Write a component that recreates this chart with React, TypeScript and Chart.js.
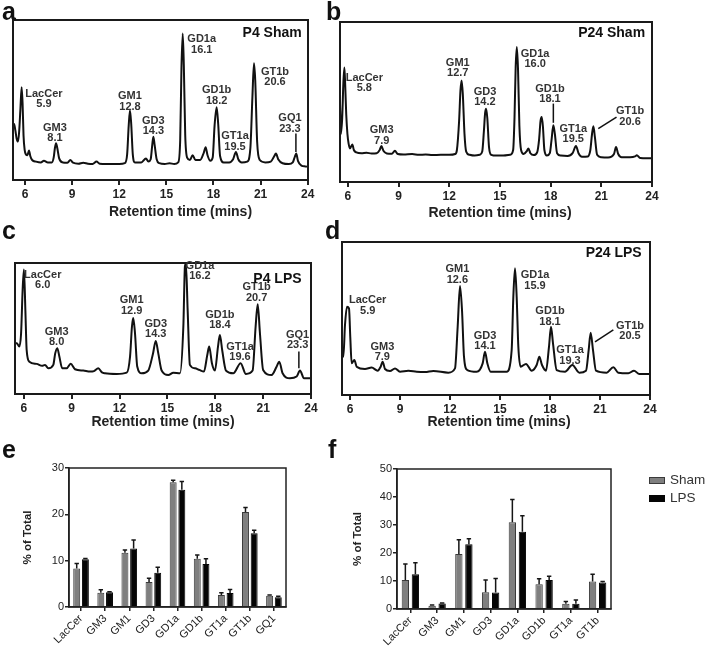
import React, { useEffect, useRef } from 'react';
import { Chart, registerables } from 'chart.js';

Chart.register(...registerables);

const FONT = "'Liberation Sans', Arial, Helvetica, sans-serif";
Chart.defaults.font.family = FONT;

// ---------------- DATA ----------------
const rtTicks = [6, 9, 12, 15, 18, 21, 24];

// chromatogram traces: [retention time (min), detector signal (% of panel height)]
const p4ShamTrace: [number, number][] = [
  [5.23, 34], [5.3, 35], [5.38, 31], [5.46, 26], [5.55, 24], [5.62, 30], [5.7, 44], [5.78, 58], [5.84, 48], [5.9, 28],
  [5.97, 19], [6.05, 16], [6.15, 15.5], [6.25, 18.5], [6.33, 15], [6.45, 12.5], [6.7, 11.5], [7.0, 11], [7.2, 12], [7.45, 11],
  [7.7, 11], [7.82, 14], [7.9, 20], [7.97, 23], [8.05, 20], [8.17, 13.5], [8.4, 11], [8.7, 10.8], [8.88, 12.5], [9.05, 10.8],
  [9.4, 10.2], [9.7, 10.8], [10.0, 10.2], [10.3, 10], [10.55, 11.5], [10.75, 10.2], [11.2, 10], [11.6, 10], [12.0, 10], [12.35, 10.5],
  [12.5, 16], [12.6, 34], [12.68, 43.5], [12.76, 35], [12.86, 16], [13.0, 11], [13.4, 11], [13.7, 13.5], [13.85, 11.5], [14.0, 13],
  [14.1, 22], [14.17, 27], [14.25, 22], [14.38, 13], [14.55, 10.5], [14.9, 10], [15.2, 10.5], [15.5, 10], [15.75, 11], [15.88, 25],
  [15.96, 70], [16.04, 91.5], [16.11, 72], [16.2, 28], [16.32, 14], [16.5, 12.5], [16.67, 15.5], [16.85, 12.5], [17.15, 12.5], [17.38, 17],
  [17.5, 20.5], [17.62, 15.5], [17.8, 12], [17.95, 14], [18.07, 34], [18.2, 45.5], [18.3, 35], [18.42, 15], [18.65, 11], [19.0, 11],
  [19.25, 13], [19.43, 17.5], [19.58, 13], [19.8, 11], [20.15, 11.5], [20.35, 20], [20.48, 52], [20.58, 73], [20.66, 62], [20.78, 24],
  [20.95, 12.5], [21.3, 11], [21.65, 11.5], [21.85, 14.5], [21.98, 16.5], [22.12, 13], [22.4, 10.5], [22.8, 10], [23.05, 11], [23.18, 14.5],
  [23.27, 16.5], [23.38, 12], [23.6, 9], [23.85, 8.5], [24.02, 8.3],
];

const p24ShamTrace: [number, number][] = [
  [5.53, 49], [5.58, 30], [5.66, 40], [5.73, 62], [5.79, 71.5], [5.84, 60], [5.9, 42], [5.97, 30], [6.04, 24], [6.12, 21],
  [6.26, 23.5], [6.35, 20], [6.5, 18.5], [6.8, 18], [7.1, 18.3], [7.4, 17.8], [7.7, 18], [7.88, 20], [7.98, 22.5], [8.1, 19.5],
  [8.3, 17.8], [8.6, 17.6], [8.78, 19.5], [8.95, 17.5], [9.3, 17.2], [9.8, 17.5], [10.2, 17], [10.6, 17.2], [11.0, 16.8], [11.5, 17],
  [12.0, 17], [12.35, 17.5], [12.45, 20], [12.58, 38], [12.66, 57], [12.73, 63.5], [12.8, 55], [12.9, 30], [13.0, 19], [13.2, 17],
  [13.5, 16.5], [13.8, 17], [13.95, 19], [14.05, 32], [14.12, 43], [14.18, 45.8], [14.25, 40], [14.35, 22], [14.48, 17], [14.8, 16.5],
  [15.2, 16.5], [15.6, 17], [15.78, 20], [15.86, 40], [15.93, 72], [16.0, 84.4], [16.07, 70], [16.15, 35], [16.25, 20], [16.4, 17.5],
  [16.6, 19.5], [16.68, 21], [16.8, 18], [17.0, 16.8], [17.2, 18.5], [17.32, 27], [17.4, 38], [17.47, 40.6], [17.54, 35], [17.63, 20],
  [17.78, 16.5], [17.95, 18], [18.05, 26], [18.16, 35.4], [18.25, 30], [18.38, 18], [18.6, 16.5], [19.0, 16.2], [19.3, 18], [19.5, 22.5],
  [19.65, 18], [19.85, 15.8], [20.2, 16], [20.35, 20], [20.45, 30], [20.53, 34.8], [20.62, 28], [20.75, 17], [21.0, 15.5], [21.4, 15.3],
  [21.75, 17.5], [21.87, 21.9], [22.0, 17.5], [22.2, 15.5], [22.7, 15.5], [23.0, 16], [23.1, 16.7], [23.3, 15], [23.7, 14.8], [24.0, 14.8],
];

const p4LpsTrace: [number, number][] = [
  [5.47, 38.8], [5.56, 38.8], [5.72, 36.2], [5.83, 46], [5.93, 80], [6.01, 95], [6.1, 64], [6.18, 33.7], [6.35, 24.7], [6.81, 23],
  [7.15, 21.5], [7.33, 22.2], [7.54, 19.6], [7.85, 22.2], [7.97, 31], [8.1, 35], [8.23, 28.6], [8.41, 19.6], [8.69, 19.6], [8.94, 23],
  [9.21, 18.9], [9.73, 17.9], [10.15, 17.1], [10.4, 17.5], [10.67, 19.6], [10.9, 16.5], [11.09, 15.8], [11.82, 15.3], [12.45, 16.3], [12.66, 28.6],
  [12.78, 51.5], [12.86, 58], [12.97, 46.4], [13.11, 21], [13.39, 15.8], [13.8, 17.9], [14.1, 31], [14.27, 40.5], [14.43, 31], [14.64, 17.9],
  [15.06, 14.5], [15.37, 16.3], [15.79, 15.8], [16.0, 51.5], [16.1, 97.4], [16.16, 99.5], [16.27, 64], [16.41, 22.2], [16.73, 19.6], [17.0, 18.4],
  [17.29, 17.1], [17.5, 29.8], [17.62, 36.2], [17.79, 23.5], [17.98, 17.9], [18.17, 36], [18.29, 45], [18.44, 33], [18.67, 17.9], [19.13, 15.8],
  [19.59, 23.5], [19.92, 15.3], [20.34, 17.9], [20.53, 51.5], [20.66, 68.6], [20.8, 46.4], [21.0, 18.4], [21.53, 14.5], [21.85, 21], [22.01, 24.7],
  [22.22, 15.8], [22.68, 12], [23.1, 13.3], [23.31, 17.9], [23.56, 12], [24.0, 12],
];

const p24LpsTrace: [number, number][] = [
  [5.54, 28.3], [5.6, 25], [5.7, 45.8], [5.82, 57.7], [5.94, 56.6], [6.02, 37], [6.1, 20.7], [6.26, 22.9], [6.4, 18.5], [6.9, 17],
  [7.3, 17.9], [7.66, 15.9], [7.84, 18.5], [7.96, 21.8], [8.1, 17], [8.4, 15.7], [8.7, 17.4], [9.0, 15.2], [9.5, 15.8], [10.0, 15.2],
  [10.5, 15.0], [11.0, 15.7], [11.9, 14.6], [12.3, 17.4], [12.46, 44.6], [12.6, 71.2], [12.72, 55.6], [12.84, 25], [13.04, 16.3], [13.6, 15.2],
  [13.96, 20.7], [14.1, 28.3], [14.24, 20.7], [14.44, 15.2], [15.4, 15.2], [15.7, 29.4], [15.8, 64.2], [15.9, 82.8], [16.0, 64.2], [16.1, 31.6],
  [16.24, 18.5], [16.56, 20.3], [16.9, 15.9], [17.2, 19.6], [17.36, 25], [17.52, 19.6], [17.76, 15.9], [17.94, 31.6], [18.06, 44.6], [18.18, 33.8],
  [18.4, 16.3], [18.9, 15.2], [19.34, 19.6], [19.76, 14.6], [20.16, 15.9], [20.32, 29.4], [20.44, 40.7], [20.58, 29.4], [20.76, 15.9], [21.4, 14.6],
  [21.8, 18.1], [22.1, 14.6], [22.7, 14.2], [23.04, 15.9], [23.36, 13.7], [23.96, 13.7],
];

// peak names and retention-time labels
const p4ShamPeaks = ['LacCer', 'GM3', 'GM1', 'GD3', 'GD1a', 'GD1b', 'GT1a', 'GT1b', 'GQ1'];
const p4ShamRt = ['5.9', '8.1', '12.8', '14.3', '16.1', '18.2', '19.5', '20.6', '23.3'];
const p24ShamPeaks = ['LacCer', 'GM3', 'GM1', 'GD3', 'GD1a', 'GD1b', 'GT1a', 'GT1b'];
const p24ShamRt = ['5.8', '7.9', '12.7', '14.2', '16.0', '18.1', '19.5', '20.6'];
const p4LpsPeaks = ['LacCer', 'GM3', 'GM1', 'GD3', 'GD1a', 'GD1b', 'GT1a', 'GT1b', 'GQ1'];
const p4LpsRt = ['6.0', '8.0', '12.9', '14.3', '16.2', '18.4', '19.6', '20.7', '23.3'];
const p24LpsPeaks = ['LacCer', 'GM3', 'GM1', 'GD3', 'GD1a', 'GD1b', 'GT1a', 'GT1b'];
const p24LpsRt = ['5.9', '7.9', '12.6', '14.1', '15.9', '18.1', '19.3', '20.5'];

// bar charts (% of total, mean and error)
const eCategories = ['LacCer', 'GM3', 'GM1', 'GD3', 'GD1a', 'GD1b', 'GT1a', 'GT1b', 'GQ1'];
const eShamMean = [8.3, 3.1, 11.7, 5.4, 26.9, 10.4, 2.6, 20.5, 2.45];
const eShamErr = [1.1, 0.65, 0.6, 0.8, 0.45, 0.85, 0.5, 1.0, 0.15];
const eLpsMean = [10.3, 3.2, 12.65, 7.4, 25.3, 9.3, 3.0, 15.9, 2.1];
const eLpsErr = [0.15, 0.1, 1.8, 1.2, 1.8, 1.1, 0.8, 0.65, 0.2];

const fCategories = ['LacCer', 'GM3', 'GM1', 'GD3', 'GD1a', 'GD1b', 'GT1a', 'GT1b'];
const fShamMean = [10.4, 1.2, 19.6, 6.0, 31.0, 8.8, 1.9, 9.8];
const fShamErr = [5.7, 0.25, 5.1, 4.4, 8.1, 2.0, 0.8, 2.6];
const fLpsMean = [12.4, 2.0, 23.15, 5.85, 27.6, 10.4, 1.9, 9.5];
const fLpsErr = [4.1, 0.1, 1.9, 5.0, 5.7, 1.3, 1.3, 0.35];

// ---------------- LAYOUT (label anchors, in data coordinates) ----------------
const p4ShamLabelPos = [[7.2, 54], [7.9, 32.7], [12.68, 52.5], [14.17, 37], [17.25, 88], [18.2, 56], [19.37, 27.5], [21.92, 67.7], [22.87, 38.5]];
const p24ShamLabelPos = [[6.97, 65.2], [8.0, 32.3], [12.5, 74.4], [14.11, 56.3], [17.08, 80.2], [17.96, 58.3], [19.34, 33.3], [22.7, 44.2]];
const p4LpsLabelPos = [[7.19, 91], [8.06, 47.7], [12.76, 71.4], [14.27, 53.6], [17.04, 98], [18.29, 60.5], [19.55, 36.2], [20.59, 81.6], [23.16, 45.2]];
const p24LpsLabelPos = [[7.06, 62], [7.94, 31.6], [12.44, 82.3], [14.1, 38.6], [17.1, 78.4], [18.0, 54.9], [19.2, 29.4], [22.8, 45.3]];

type ChromCfg = {
  trace: [number, number][];
  names: string[];
  rts: string[];
  pos: number[][];
  leaders: number[][];
  title: string;
  titlePos: number[];
  min: number;
  max: number;
  padding: { left: number; right: number; top: number; bottom: number };
  xHeight: number;
  axisTitleDx: number;
  axisTitleDy: number;
};

function chromPlugin(cfg: ChromCfg) {
  return {
    id: 'chromAnnotations',
    afterDatasetsDraw(chart: any) {
      const { ctx, chartArea: ca, scales } = chart;
      const x = scales.x;
      const y = scales.y;
      ctx.save();
      ctx.strokeStyle = '#1a1a1a';
      ctx.lineWidth = 2;
      ctx.strokeRect(ca.left, ca.top, ca.right - ca.left, ca.bottom - ca.top);

      ctx.fillStyle = '#333';
      ctx.font = `bold 11px ${FONT}`;
      ctx.textAlign = 'center';
      ctx.textBaseline = 'middle';
      cfg.names.forEach((n, i) => {
        const px = x.getPixelForValue(cfg.pos[i][0]);
        const py = y.getPixelForValue(cfg.pos[i][1]);
        ctx.fillText(n, px, py);
        ctx.fillText(cfg.rts[i], px, py + 10.5);
      });

      ctx.strokeStyle = '#111';
      ctx.lineWidth = 1.5;
      cfg.leaders.forEach((l) => {
        ctx.beginPath();
        ctx.moveTo(x.getPixelForValue(l[0]), y.getPixelForValue(l[1]));
        ctx.lineTo(x.getPixelForValue(l[2]), y.getPixelForValue(l[3]));
        ctx.stroke();
      });

      ctx.fillStyle = '#111';
      ctx.font = `bold 14px ${FONT}`;
      ctx.textAlign = 'right';
      ctx.fillText(cfg.title, x.getPixelForValue(cfg.titlePos[0]), y.getPixelForValue(cfg.titlePos[1]));

      ctx.fillStyle = '#222';
      ctx.font = `bold 14px ${FONT}`;
      ctx.textAlign = 'center';
      ctx.fillText('Retention time (mins)', (ca.left + ca.right) / 2 + cfg.axisTitleDx, ca.bottom + cfg.axisTitleDy);
      ctx.restore();
    },
  };
}

function makeChrom(cfg: ChromCfg) {
  return {
    type: 'line',
    data: {
      datasets: [
        {
          data: cfg.trace.map(([t, v]) => ({ x: t, y: v })),
          borderColor: '#111',
          borderWidth: 2,
          pointRadius: 0,
          fill: false,
          cubicInterpolationMode: 'monotone',
        },
      ],
    },
    options: {
      animation: false,
      responsive: false,
      maintainAspectRatio: false,
      layout: { padding: cfg.padding },
      plugins: { legend: { display: false }, tooltip: { enabled: false } },
      scales: {
        x: {
          type: 'linear',
          min: cfg.min,
          max: cfg.max,
          afterBuildTicks: (s: any) => {
            s.ticks = rtTicks.map((v) => ({ value: v }));
          },
          afterFit: (s: any) => {
            s.height = cfg.xHeight;
          },
          ticks: {
            font: { family: FONT, size: 12, weight: 'bold' },
            color: '#222',
            padding: 2,
            maxRotation: 0,
            autoSkip: false,
          },
          grid: { drawOnChartArea: false, drawTicks: true, tickLength: 5, color: '#222', tickColor: '#222', lineWidth: 2 },
          border: { display: true, color: '#1a1a1a', width: 2 },
        },
        y: { display: false, min: 0, max: 100 },
      },
    },
    plugins: [chromPlugin(cfg)],
  };
}

const errorBarPlugin = {
  id: 'errorBars',
  afterDatasetsDraw(chart: any) {
    const { ctx, scales } = chart;
    const y = scales.y;
    ctx.save();
    chart.data.datasets.forEach((ds: any, i: number) => {
      const meta = chart.getDatasetMeta(i);
      meta.data.forEach((bar: any, j: number) => {
        const top = y.getPixelForValue(ds.data[j] + ds.errors[j]);
        ctx.strokeStyle = '#151515';
        ctx.lineWidth = 1.5;
        ctx.beginPath();
        ctx.moveTo(bar.x, bar.y);
        ctx.lineTo(bar.x, top);
        ctx.moveTo(bar.x - 2.2, top);
        ctx.lineTo(bar.x + 2.2, top);
        ctx.stroke();
      });
    });
    const ca = chart.chartArea;
    ctx.strokeStyle = '#222';
    ctx.lineWidth = 1.5;
    ctx.strokeRect(ca.left, ca.top, ca.right - ca.left, ca.bottom - ca.top);
    ctx.restore();
  },
};

type BarCfg = {
  cats: string[];
  sham: number[];
  shamErr: number[];
  lps: number[];
  lpsErr: number[];
  max: number;
  padding: { left: number; right: number; top: number; bottom: number };
  yWidth: number;
  xHeight: number;
  titlePad: number;
  catPct: number;
  barPct: number;
};

function makeBars(cfg: BarCfg) {
  const common = { categoryPercentage: cfg.catPct, barPercentage: cfg.barPct, borderWidth: 1 };
  return {
    type: 'bar',
    data: {
      labels: cfg.cats,
      datasets: [
        { label: 'Sham', data: cfg.sham, errors: cfg.shamErr, backgroundColor: '#7f7f7f', borderColor: '#3a3a3a', ...common },
        { label: 'LPS', data: cfg.lps, errors: cfg.lpsErr, backgroundColor: '#050505', borderColor: '#050505', ...common },
      ],
    },
    options: {
      animation: false,
      responsive: false,
      maintainAspectRatio: false,
      layout: { padding: cfg.padding },
      plugins: { legend: { display: false }, tooltip: { enabled: false } },
      scales: {
        x: {
          afterFit: (s: any) => {
            s.height = cfg.xHeight;
          },
          ticks: { font: { family: FONT, size: 11 }, color: '#222', minRotation: 45, maxRotation: 45, padding: 1, autoSkip: false },
          grid: { offset: false, drawOnChartArea: false, drawTicks: true, tickLength: 4, color: '#222', tickColor: '#222', lineWidth: 1.5 },
          border: { display: true, color: '#222', width: 1.5 },
        },
        y: {
          min: 0,
          max: cfg.max,
          afterFit: (s: any) => {
            s.width = cfg.yWidth;
          },
          ticks: { stepSize: 10, font: { family: FONT, size: 11 }, color: '#222', padding: 1 },
          grid: { drawOnChartArea: false, drawTicks: true, tickLength: 4, color: '#222', tickColor: '#222', lineWidth: 1.5 },
          border: { display: true, color: '#222', width: 1.5 },
          title: {
            display: true,
            text: '% of Total',
            color: '#222',
            font: { family: FONT, size: 11.5, weight: 'bold' },
            padding: { top: cfg.titlePad, bottom: 0 },
          },
        },
      },
    },
    plugins: [errorBarPlugin],
  };
}

const panels = [
  {
    key: 'a', left: 0, top: 0, width: 335, height: 225,
    make: () => makeChrom({
      trace: p4ShamTrace, names: p4ShamPeaks, rts: p4ShamRt, pos: p4ShamLabelPos,
      leaders: [[23.25, 29, 23.25, 17.5]], title: 'P4 Sham', titlePos: [23.62, 92],
      min: 5.23, max: 24.02, padding: { left: 13, right: 27, top: 20, bottom: 0 }, xHeight: 45,
      axisTitleDx: 20, axisTitleDy: 32,
    }),
  },
  {
    key: 'b', left: 335, top: 0, width: 374, height: 225,
    make: () => makeChrom({
      trace: p24ShamTrace, names: p24ShamPeaks, rts: p24ShamRt, pos: p24ShamLabelPos,
      leaders: [[18.16, 49, 18.16, 37], [21.9, 40.6, 20.82, 33.3]], title: 'P24 Sham', titlePos: [23.59, 93.3],
      min: 5.53, max: 24, padding: { left: 5, right: 57, top: 22, bottom: 0 }, xHeight: 43,
      axisTitleDx: 4, axisTitleDy: 31,
    }),
  },
  {
    key: 'c', left: 0, top: 225, width: 335, height: 205,
    make: () => makeChrom({
      trace: p4LpsTrace, names: p4LpsPeaks, rts: p4LpsRt, pos: p4LpsLabelPos,
      leaders: [[23.24, 32.4, 23.24, 19.6]], title: 'P4 LPS', titlePos: [23.41, 87.8],
      min: 5.45, max: 24, padding: { left: 15, right: 24, top: 38, bottom: 0 }, xHeight: 36,
      axisTitleDx: 0, axisTitleDy: 28,
    }),
  },
  {
    key: 'd', left: 335, top: 225, width: 374, height: 205,
    make: () => makeChrom({
      trace: p24LpsTrace, names: p24LpsPeaks, rts: p24LpsRt, pos: p24LpsLabelPos,
      leaders: [[21.8, 42.5, 20.7, 34.8]], title: 'P24 LPS', titlePos: [23.5, 93],
      min: 5.52, max: 24, padding: { left: 7, right: 59, top: 17, bottom: 0 }, xHeight: 35,
      axisTitleDx: 3, axisTitleDy: 27,
    }),
  },
  {
    key: 'e', left: 0, top: 430, width: 335, height: 221,
    make: () => makeBars({
      cats: eCategories, sham: eShamMean, shamErr: eShamErr, lps: eLpsMean, lpsErr: eLpsErr, max: 30,
      padding: { left: 0, right: 49, top: 38, bottom: 0 }, yWidth: 69, xHeight: 44, titlePad: 21,
      catPct: 0.72, barPct: 0.8,
    }),
  },
  {
    key: 'f', left: 335, top: 430, width: 374, height: 221,
    make: () => makeBars({
      cats: fCategories, sham: fShamMean, shamErr: fShamErr, lps: fLpsMean, lpsErr: fLpsErr, max: 50,
      padding: { left: 0, right: 98, top: 39, bottom: 0 }, yWidth: 62, xHeight: 42, titlePad: 16,
      catPct: 0.75, barPct: 0.73,
    }),
  },
];

function ChartCanvas({ left, top, width, height, make }: any) {
  const ref = useRef<HTMLCanvasElement>(null);
  useEffect(() => {
    const chart = new Chart(ref.current as HTMLCanvasElement, make() as any);
    return () => chart.destroy();
  }, []);
  return (
    <canvas
      ref={ref}
      width={width}
      height={height}
      style={{ position: 'absolute', left, top, width, height, display: 'block' }}
    />
  );
}

const panelLetters = [
  { t: 'a', left: 2, top: -1 },
  { t: 'b', left: 326, top: -1 },
  { t: 'c', left: 2, top: 218 },
  { t: 'd', left: 325, top: 218 },
  { t: 'e', left: 2, top: 437 },
  { t: 'f', left: 328, top: 437 },
];

const legendItems = [
  { label: 'Sham', color: '#7f7f7f', border: '#3a3a3a', top: 477 },
  { label: 'LPS', color: '#050505', border: '#050505', top: 495 },
];

export default function App() {
  return (
    <div
      style={{
        position: 'absolute',
        left: 0,
        top: 0,
        width: 709,
        height: 651,
        background: '#fff',
        overflow: 'hidden',
        fontFamily: FONT,
      }}
    >
      {panels.map((p) => (
        <ChartCanvas key={p.key} left={p.left} top={p.top} width={p.width} height={p.height} make={p.make} />
      ))}
      {panelLetters.map((l) => (
        <div
          key={l.t}
          style={{
            position: 'absolute',
            left: l.left,
            top: l.top,
            fontSize: 25,
            lineHeight: '24px',
            fontWeight: 'bold',
            color: '#111',
          }}
        >
          {l.t}
        </div>
      ))}
      {legendItems.map((it) => (
        <React.Fragment key={it.label}>
          <div
            style={{
              position: 'absolute',
              left: 649,
              top: it.top,
              width: 14,
              height: 5,
              background: it.color,
              border: `1px solid ${it.border}`,
            }}
          />
          <div
            style={{
              position: 'absolute',
              left: 670,
              top: it.top - 6,
              fontSize: 13.5,
              lineHeight: '18px',
              color: '#333',
            }}
          >
            {it.label}
          </div>
        </React.Fragment>
      ))}
    </div>
  );
}
